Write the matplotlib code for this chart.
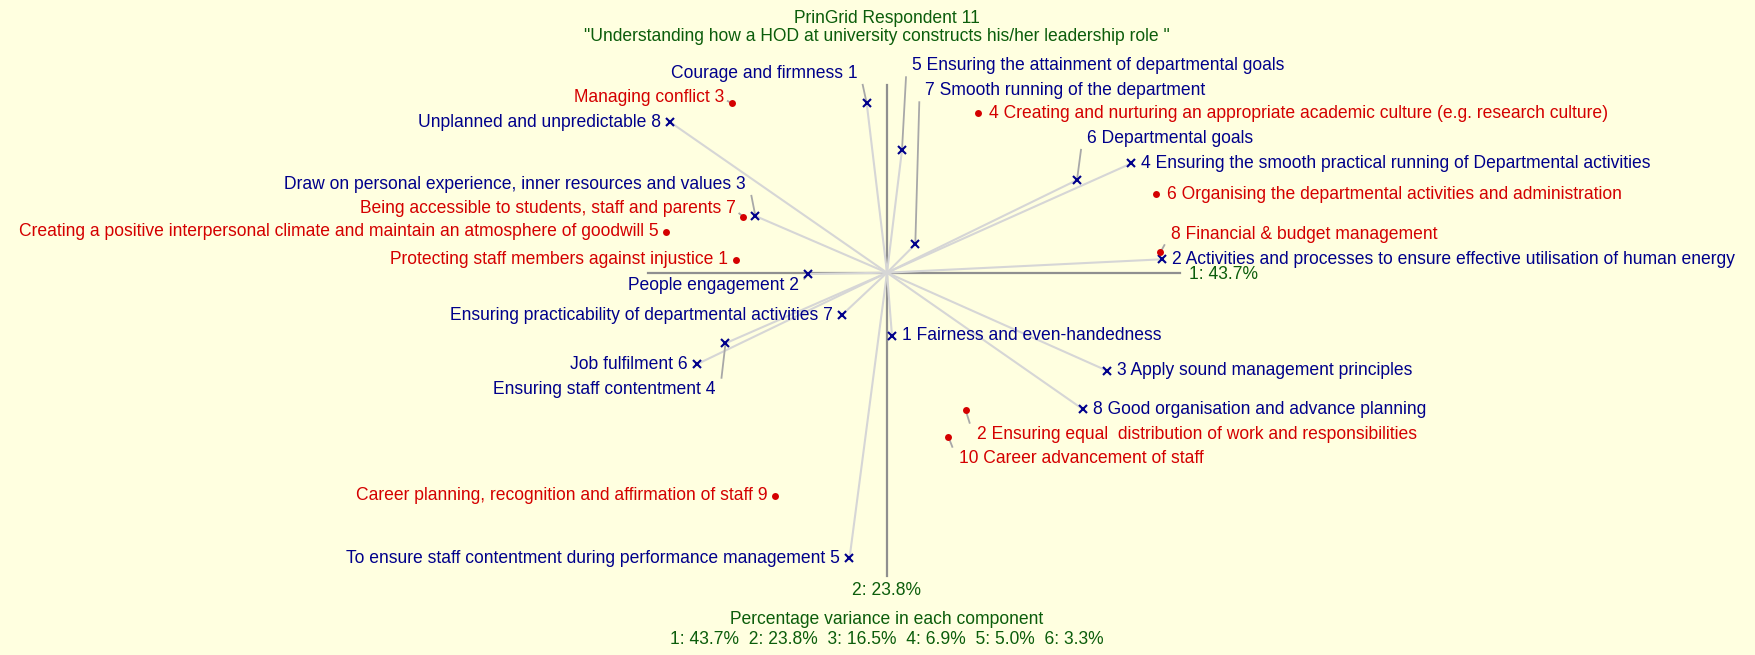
import numpy as np
import matplotlib.pyplot as plt

plt.rcParams['font.family'] = ['Liberation Sans', 'DejaVu Sans']

# percentage variance per principal component
variance = [43.7, 23.8, 16.5, 6.9, 5.0, 3.3]

# construct poles (component 1, component 2), numbered 1..8
left_poles = ["Courage and firmness", "People engagement",
              "Draw on personal experience, inner resources and values",
              "Ensuring staff contentment",
              "To ensure staff contentment during performance management",
              "Job fulfilment", "Ensuring practicability of departmental activities",
              "Unplanned and unpredictable"]
left_x = [-0.203, -0.788, -1.316, -1.615, -0.375, -1.902, -0.450, -2.166]
left_y = [1.694, -0.013, 0.567, -0.706, -2.856, -0.916, -0.423, 1.504]

right_poles = ["Fairness and even-handedness",
               "Activities and processes to ensure effective utilisation of human energy",
               "Apply sound management principles",
               "Ensuring the smooth practical running of Departmental activities",
               "Ensuring the attainment of departmental goals",
               "Departmental goals", "Smooth running of the department",
               "Good organisation and advance planning"]
right_x = [0.050, 2.750, 2.200, 2.445, 0.150, 1.900, 0.283, 1.960]
right_y = [-0.633, 0.134, -0.980, 1.094, 1.227, 0.927, 0.284, -1.366]

# elements, numbered 1..10
elements = ["Protecting staff members against injustice",
            "Ensuring equal  distribution of work and responsibilities",
            "Managing conflict",
            "Creating and nurturing an appropriate academic culture (e.g. research culture)",
            "Creating a positive interpersonal climate and maintain an atmosphere of goodwill",
            "Organising the departmental activities and administration",
            "Being accessible to students, staff and parents",
            "Financial & budget management",
            "Career planning, recognition and affirmation of staff",
            "Career advancement of staff"]
elem_x = [-1.511, 0.786, -1.552, 0.913, -2.212, 2.693, -1.437, 2.734, -1.120, 0.613]
elem_y = [0.127, -1.373, 1.694, 1.594, 0.410, 0.784, 0.560, 0.204, -2.230, -1.640]

# label vertical shifts in pixels (layout only)
left_shift = [30, -12, 31.7, -46, 0, 0, 0, 0]
right_shift = [0, 0, 0, 0, 84.3, 41.7, 153.6, 0]
elem_shift = [0, -24.3, 5.6, 0, 0, 0, 8, 18, 0, -21.6]

BG = '#FFFFE0'
BLUE = '#00008B'
RED = '#D40000'
GREEN = '#0B5D0B'
FS = 12.65

fig = plt.figure(figsize=(17.56, 6.55), dpi=100)
fig.patch.set_facecolor(BG)
ax = fig.add_axes([0, 0, 1, 1])
ax.set_facecolor(BG)
ax.set_xlim(-8.87, 8.69)
ax.set_ylim(-3.823, 2.727)
ax.axis('off')

all_x = left_x + right_x + elem_x
all_y = left_y + right_y + elem_y
m = 0.18
xmin, xmax = min(all_x) - m, max(all_x) + m
ymin, ymax = min(all_y) - m, max(all_y) + m

# component axes
ax.plot([xmin, xmax], [0, 0], color='#8f8f8f', lw=1.6, zorder=1)
ax.plot([0, 0], [ymin, ymax], color='#8f8f8f', lw=1.6, zorder=1)
ax.text(xmax + 0.09, -0.02, f"1: {variance[0]}%", color=GREEN, fontsize=FS,
        ha='left', va='center')
ax.text(0, ymin - 0.14, f"2: {variance[1]}%", color=GREEN, fontsize=FS,
        ha='center', va='center')

# pole vectors
for px, py in zip(left_x + right_x, left_y + right_y):
    ax.plot([0, px], [0, py], color='#d6d6d6', lw=1.5, zorder=2)


def label(x, y, text, shift, color, gap):
    side = -1 if x < 0 else 1
    dx = side * gap / 100
    dy = shift / 100
    if abs(shift) > 3:
        g = min(11.5, 0.6 * abs(shift)) / 100
        ex = x + side * 0.04
        ey = y + dy - np.sign(dy) * g
        ax.plot([x, ex], [y, ey], color='#a8a8a8', lw=1.3, zorder=2)
    ax.text(x + dx, y + dy, text, color=color, fontsize=FS,
            ha='right' if side < 0 else 'left', va='center', zorder=4)


for i, (name, x, y) in enumerate(zip(left_poles, left_x, left_y)):
    ax.plot(x, y, 'x', color=BLUE, ms=5.5, mew=1.5, zorder=3)
    label(x, y, f"{name} {i + 1}", left_shift[i], BLUE, 9.5)

for i, (name, x, y) in enumerate(zip(right_poles, right_x, right_y)):
    ax.plot(x, y, 'x', color=BLUE, ms=5.5, mew=1.5, zorder=3)
    label(x, y, f"{i + 1} {name}", right_shift[i], BLUE, 10)

for i, (name, x, y) in enumerate(zip(elements, elem_x, elem_y)):
    ax.plot(x, y, 'o', color=RED, ms=5, mew=0, zorder=3)
    txt = f"{name} {i + 1}" if x < 0 else f"{i + 1} {name}"
    label(x, y, txt, elem_shift[i], RED, 7.5 if x < 0 else 11)

# titles
ax.text(0, 2.542, "PrinGrid Respondent 11", color=GREEN, fontsize=FS,
        ha='center', va='center')
ax.text(-0.1, 2.362, '"Understanding how a HOD at university constructs his/her leadership role "',
        color=GREEN, fontsize=FS, ha='center', va='center')
ax.text(0, -3.473, "Percentage variance in each component", color=GREEN,
        fontsize=FS, ha='center', va='center')
ax.text(0, -3.663, "  ".join(f"{i + 1}: {v:.1f}%" for i, v in enumerate(variance)),
        color=GREEN, fontsize=FS, ha='center', va='center')

fig.savefig('out.png', dpi=100, facecolor=BG)
